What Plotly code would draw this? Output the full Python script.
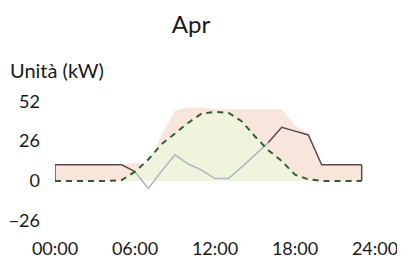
import plotly.graph_objects as go

hours = list(range(24))
tick_vals = [0, 6, 12, 18, 24]
tick_text = ["00:00", "06:00", "12:00", "18:00", "24:00"]
y_ticks = [52, 26, 0, -26]

grid = [10.5, 10.5, 10.5, 10.5, 10.5, 10.5, 6, -5, 6.5, 17, 11, 7,
        1.5, 1.5, 9, 17, 25, 35, 32.5, 30, 10.5, 10.5, 10.5, 10.5]
solar = [0, 0, 0, 0, 0, 0.5, 6, 14, 24, 31, 38, 44,
         45, 44.5, 39, 29, 20, 13, 4, 1, 0, 0, 0, 0]
consumption = [10.5, 10.5, 10.5, 10.5, 10.5, 10.5, 12, 9, 30, 46, 48, 48,
               47, 47, 47, 47, 47, 47, 36, 31, 10.5, 10.5, 10.5, 10.5]

PINK = "#f8e6dc"
GREEN = "#f0f4dd"
DARK = "#5b4852"
LIGHT = "#a9b8c2"
DASH = "#2f5f33"

fig = go.Figure()
fig.add_trace(go.Scatter(x=hours, y=consumption, fill="tozeroy", fillcolor=PINK,
                         mode="lines", line=dict(width=0, color=PINK), hoverinfo="skip"))
fig.add_trace(go.Scatter(x=hours, y=solar, fill="tozeroy", fillcolor=GREEN,
                         mode="lines", line=dict(width=0, color=GREEN), hoverinfo="skip"))

# grid line: light segment during the day, dark elsewhere
light_y = [v if 6 <= h <= 16 else None for h, v in zip(hours, grid)]
dark_y = [v if (h <= 6 or h >= 16) else None for h, v in zip(hours, grid)]
fig.add_trace(go.Scatter(x=hours, y=light_y, mode="lines",
                         line=dict(width=1.5, color=LIGHT), connectgaps=False))
fig.add_trace(go.Scatter(x=hours, y=dark_y, mode="lines",
                         line=dict(width=1.5, color=DARK), connectgaps=False))
# end edges of the area
fig.add_trace(go.Scatter(x=[hours[0], hours[0]], y=[0, grid[0]], mode="lines",
                         line=dict(width=1.5, color=DARK)))
fig.add_trace(go.Scatter(x=[hours[-1], hours[-1]], y=[0, grid[-1]], mode="lines",
                         line=dict(width=1.5, color=DARK)))

fig.add_trace(go.Scatter(x=hours, y=solar, mode="lines",
                         line=dict(width=2, color=DASH, dash="6px,5px")))

# the page body adds an 8px offset, so the figure is 8px smaller each way
fig.update_layout(
    width=397, height=257,
    margin=dict(l=47, r=30, t=81, b=29, autoexpand=False),
    paper_bgcolor="white", plot_bgcolor="white",
    showlegend=False,
    font=dict(family="Lato, Noto Sans, sans-serif", size=18, color="#1a1a1a"),
    title=dict(text="Apr", x=0.461, xanchor="center", y=0.934, yanchor="middle",
               font=dict(size=24, color="#1a1a1a")),
    xaxis=dict(range=[0, 24], tickvals=tick_vals, ticktext=tick_text, automargin=False,
               showgrid=False, zeroline=False, showline=False, ticks=""),
    yaxis=dict(range=[-36, 60], tickvals=y_ticks, showgrid=False, zeroline=False,
               automargin=False, showline=False, ticks="", ticklabelstandoff=14),
    annotations=[dict(text="Unità (kW)", xref="paper", yref="paper",
                      x=-0.147, y=1.132, xanchor="left", yanchor="middle",
                      showarrow=False, font=dict(size=20, color="#1a1a1a"))],
)

fig.write_html("out.html")
